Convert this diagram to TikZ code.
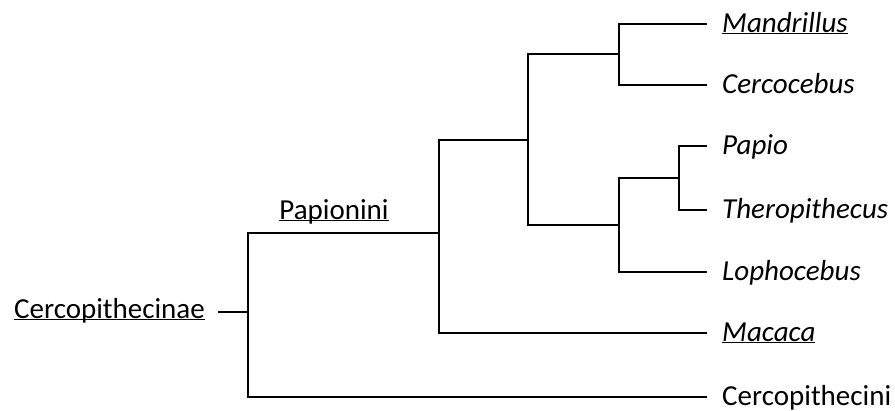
\documentclass[tikz,border=0pt]{standalone}
\usepackage{fontspec}
\setmainfont{Carlito}
\usetikzlibrary{positioning}
\newcommand{\uname}[1]{\underline{\smash{#1}}}

\begin{document}
\begin{tikzpicture}[
    x=1pt, y=-1pt,
    branch/.style={line width=2.5pt},
    leaf/.style={font=\fontsize{29}{33}\selectfont, anchor=west, inner xsep=15pt, inner ysep=0pt, text height=16pt, text depth=0pt},
    genus/.style={leaf, font=\fontsize{29}{33}\selectfont\itshape},
    clade/.style={font=\fontsize{29}{33}\selectfont, inner sep=0pt}
]
    \useasboundingbox (0,0) rectangle (895,410);

    % Leaves
    \node[genus] (mandrillus) at (707,24) {\uname{Mandrillus}};
    \node[genus] (cercocebus) at (707,85) {Cercocebus};
    \node[genus] (papio) at (707,146) {Papio};
    \node[genus] (theropithecus) at (707,210) {Theropithecus};
    \node[genus] (lophocebus) at (707,272) {Lophocebus};
    \node[genus] (macaca) at (707,333) {\uname{Macaca}};
    \node[leaf] (cercopithecini) at (707,397) {Cercopithecini};

    % Junctions
    \coordinate (jmc) at (619,54);
    \coordinate (jpt) at (679,178);
    \coordinate (jptl) at (619,225);
    \coordinate (jafr) at (528,140);
    \coordinate (jpap) at (439,233);
    \coordinate (jroot) at (248,312);

    % Clade labels
    \node[clade, left=30pt of jroot, inner xsep=13pt, text height=12pt, text depth=0pt] (cercopithecinae) {\uname{Cercopithecinae}};
    \node[clade, anchor=base] (papionini) at (334,219) {\uname{Papionini}};

    % Branches
    \draw[branch] (mandrillus.west) -| (jmc) |- (cercocebus.west);
    \draw[branch] (papio.west) -| (jpt) |- (theropithecus.west);
    \draw[branch] (jpt) -| (jptl) |- (lophocebus.west);
    \draw[branch] (jmc) -| (jafr) |- (jptl);
    \draw[branch] (jafr) -| (jpap) |- (macaca.west);
    \draw[branch] (jpap) -| (jroot) |- (cercopithecini.west);
    \draw[branch] (cercopithecinae.east) -- (jroot);

\end{tikzpicture}
\end{document}
